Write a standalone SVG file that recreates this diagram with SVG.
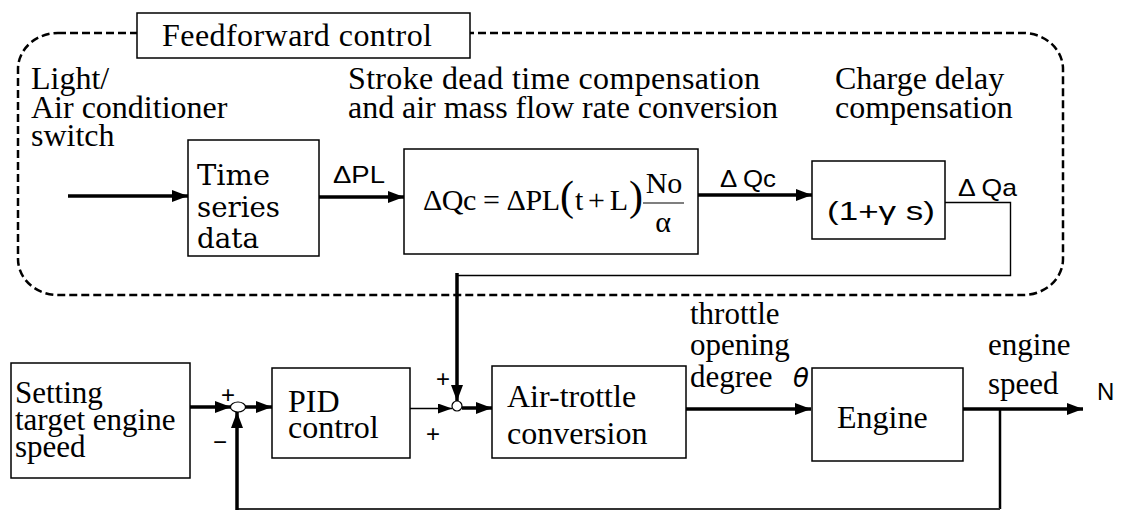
<svg xmlns="http://www.w3.org/2000/svg" width="1123" height="511" viewBox="0 0 1123 511">
<defs>
<style>
.box{fill:#fff;stroke:#000;stroke-width:1.5}
.thick{fill:none;stroke:#000;stroke-width:3.5}
.thin{fill:none;stroke:#000;stroke-width:1.4}
</style>
<marker id="ah" markerUnits="userSpaceOnUse" markerWidth="16" markerHeight="12" refX="16" refY="6" orient="auto">
<path d="M0,0 L16,6 L0,12 z" fill="#000"/>
</marker>
<marker id="ahs" markerUnits="userSpaceOnUse" markerWidth="14" markerHeight="10" refX="14" refY="5" orient="auto">
<path d="M0,0 L14,5 L0,10 z" fill="#000"/>
</marker>
</defs>
<rect width="1123" height="511" fill="#fff"/>

<g id="feedforward-region">
<rect x="18" y="33" width="1045" height="262" rx="40" ry="36" fill="none" stroke="#000" stroke-width="2.5" stroke-dasharray="8 4"/>
<rect class="box" x="137" y="13" width="333" height="45"/>
<text font-family="Liberation Serif, serif" font-size="32" x="162" y="46" textLength="270">Feedforward control</text>
</g>

<g id="label-input" font-family="Liberation Serif, serif" font-size="32">
<text x="31" y="89">Light/</text>
<text x="31" y="118">Air conditioner</text>
<text x="31" y="146">switch</text>
</g>

<g id="label-stroke" font-family="Liberation Serif, serif" font-size="32">
<text x="348" y="89" textLength="412">Stroke dead time  compensation</text>
<text x="348" y="118" textLength="430">and air mass flow rate conversion</text>
</g>

<g id="label-charge" font-family="Liberation Serif, serif" font-size="32">
<text x="835" y="89">Charge delay</text>
<text x="835" y="118">compensation</text>
</g>

<g id="time-series">
<rect class="box" x="188" y="140" width="131" height="116"/>
<g font-family="DejaVu Serif, serif" font-size="28">
<text x="197" y="185" textLength="73" lengthAdjust="spacingAndGlyphs">Time</text>
<text x="197" y="217" textLength="83" lengthAdjust="spacingAndGlyphs">series</text>
<text x="197" y="248" textLength="62" lengthAdjust="spacingAndGlyphs">data</text>
</g>
</g>

<g id="formula">
<rect class="box" x="404" y="149" width="294" height="105"/>
<g font-family="Liberation Serif, serif" font-size="30">
<text><tspan x="423" y="210" textLength="137">ΔQc = ΔPL</tspan><tspan x="560" y="210" font-size="42">(</tspan><tspan x="575" y="210" textLength="53">t + L</tspan><tspan x="629" y="210" font-size="42">)</tspan></text>
<text x="664" y="193" text-anchor="middle">No</text>
<text x="663" y="232" text-anchor="middle">α</text>
</g>
<line x1="643" y1="203" x2="684" y2="203" stroke="#000" stroke-width="1.2"/>
</g>

<g id="charge-delay">
<rect class="box" x="812" y="161" width="133" height="78"/>
<text font-family="Liberation Sans, sans-serif" font-size="25" x="827" y="220" textLength="108" lengthAdjust="spacingAndGlyphs">(1+γ s)</text>
</g>

<g id="setting">
<rect class="box" x="11" y="363" width="179" height="115"/>
<g font-family="Liberation Serif, serif" font-size="31">
<text x="15" y="403">Setting</text>
<text x="15" y="430">target engine</text>
<text x="15" y="457">speed</text>
</g>
</g>

<g id="sum1">
<ellipse cx="238" cy="407" rx="7.5" ry="5" fill="#fff" stroke="#000" stroke-width="1.2"/>
<g font-family="Liberation Sans, sans-serif" font-size="24" text-anchor="middle">
<text x="228" y="403">+</text>
<text x="220" y="450">−</text>
</g>
</g>

<g id="pid">
<rect class="box" x="272" y="368" width="138" height="90"/>
<g font-family="Liberation Serif, serif" font-size="32">
<text x="288" y="412">PID</text>
<text x="288" y="438">control</text>
</g>
</g>

<g id="sum2">
<circle cx="457" cy="406" r="5" fill="#fff" stroke="#000" stroke-width="1.2"/>
<g font-family="Liberation Sans, sans-serif" font-size="24" text-anchor="middle">
<text x="443" y="387">+</text>
<text x="433" y="442">+</text>
</g>
</g>

<g id="air-trottle">
<rect class="box" x="492" y="366" width="194" height="92"/>
<g font-family="Liberation Serif, serif" font-size="32">
<text x="507" y="407">Air-trottle</text>
<text x="507" y="444">conversion</text>
</g>
</g>

<g id="engine">
<rect class="box" x="812" y="368" width="151" height="93"/>
<text font-family="Liberation Serif, serif" font-size="32" x="837" y="428">Engine</text>
</g>

<g id="connectors">
<line class="thick" x1="68" y1="196" x2="188" y2="196" marker-end="url(#ah)"/>
<line class="thick" x1="319" y1="197" x2="404" y2="197" marker-end="url(#ah)"/>
<line class="thick" x1="698" y1="195" x2="812" y2="195" marker-end="url(#ah)"/>
<polyline class="thin" points="945,202.5 1010.5,202.5 1010.5,275.5 458,275.5"/>
<line class="thick" x1="457" y1="273" x2="457" y2="401" marker-end="url(#ah)"/>
<line class="thick" x1="190" y1="407" x2="231" y2="407" marker-end="url(#ah)"/>
<line class="thick" x1="245" y1="407" x2="272" y2="407" marker-end="url(#ah)"/>
<line class="thin" x1="410" y1="408.5" x2="452" y2="408.5" marker-end="url(#ahs)"/>
<line class="thick" x1="462" y1="408" x2="492" y2="408" marker-end="url(#ah)"/>
<line class="thick" x1="686" y1="409" x2="811" y2="409" marker-end="url(#ah)"/>
<line class="thick" x1="963" y1="409" x2="1083" y2="409" marker-end="url(#ah)"/>
<line x1="1000" y1="409" x2="1000" y2="509" stroke="#000" stroke-width="2.5"/>
<line x1="1000" y1="509" x2="237" y2="509" stroke="#333" stroke-width="2"/>
<line class="thick" x1="237" y1="510" x2="237" y2="412" marker-end="url(#ah)"/>
<g font-family="Liberation Sans, sans-serif" font-size="24">
<text x="333" y="183" textLength="52" lengthAdjust="spacingAndGlyphs">ΔPL</text>
<text x="720" y="187" textLength="56" lengthAdjust="spacingAndGlyphs">Δ Qc</text>
<text x="958" y="196" textLength="59" lengthAdjust="spacingAndGlyphs">Δ Qa</text>
<text x="1097" y="400">N</text>
</g>
<g font-family="Liberation Serif, serif" font-size="31">
<text x="690" y="324">throttle</text>
<text x="690" y="355">opening</text>
<text x="690" y="387">degree</text>
<text x="988" y="355">engine</text>
<text x="988" y="394">speed</text>
</g>
<text x="793" y="387" font-family="DejaVu Sans, sans-serif" font-size="26" font-style="italic">θ</text>
</g>
</svg>
